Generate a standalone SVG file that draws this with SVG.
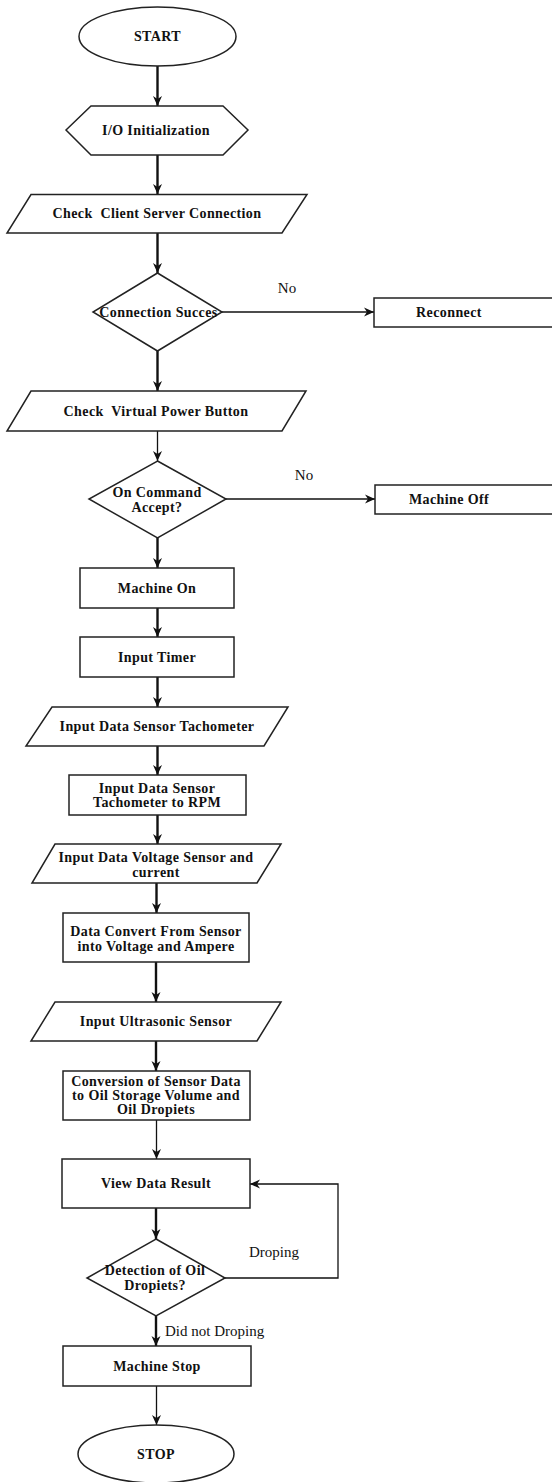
<svg xmlns="http://www.w3.org/2000/svg" width="552" height="1482" viewBox="0 0 552 1482">
<style>
.s{fill:#fff;stroke:#222;stroke-width:1.5}
.t{font-family:"Liberation Serif","Times New Roman",serif;font-weight:bold;font-size:14px;letter-spacing:0.4px;fill:#111;text-anchor:middle}
.l{font-family:"Liberation Serif","Times New Roman",serif;font-size:15px;fill:#111}
.c{fill:none;stroke:#111;stroke-width:1.3}
.k{fill:none;stroke:#111;stroke-width:2.4}
</style>
<defs>
<marker id="ah" markerUnits="userSpaceOnUse" markerWidth="10" markerHeight="10" refX="10" refY="5" orient="auto">
<path d="M0,0.5 L10,5 L0,9.5 L3,5 z" fill="#111"/>
</marker>
</defs>
<rect width="552" height="1482" fill="#fff"/>
<g id="connectors">
<line class="k" x1="157.5" y1="66" x2="157.5" y2="106" marker-end="url(#ah)"/>
<line class="k" x1="157.5" y1="155" x2="157.5" y2="194" marker-end="url(#ah)"/>
<line class="k" x1="157.5" y1="233" x2="157.5" y2="273" marker-end="url(#ah)"/>
<line class="c" x1="222" y1="312" x2="374" y2="312" marker-end="url(#ah)"/>
<line class="k" x1="157.5" y1="351" x2="157.5" y2="391" marker-end="url(#ah)"/>
<line class="c" x1="157.5" y1="431" x2="157.5" y2="461" marker-end="url(#ah)"/>
<line class="c" x1="226" y1="499" x2="375" y2="499" marker-end="url(#ah)"/>
<line class="k" x1="157.5" y1="538" x2="157.5" y2="568" marker-end="url(#ah)"/>
<line class="k" x1="157.5" y1="608" x2="157.5" y2="637" marker-end="url(#ah)"/>
<line class="k" x1="157.5" y1="677" x2="157.5" y2="707" marker-end="url(#ah)"/>
<line class="k" x1="157.5" y1="746" x2="157.5" y2="775" marker-end="url(#ah)"/>
<line class="k" x1="157.5" y1="815" x2="157.5" y2="844" marker-end="url(#ah)"/>
<line class="k" x1="156.5" y1="883" x2="156.5" y2="913" marker-end="url(#ah)"/>
<line class="k" x1="156" y1="962" x2="156" y2="1002" marker-end="url(#ah)"/>
<line class="k" x1="156" y1="1041" x2="156" y2="1071" marker-end="url(#ah)"/>
<line class="c" x1="156.5" y1="1120" x2="156.5" y2="1159" marker-end="url(#ah)"/>
<line class="k" x1="156" y1="1208" x2="156" y2="1239" marker-end="url(#ah)"/>
<polyline class="c" points="225,1278 338,1278 338,1184 250,1184" marker-end="url(#ah)"/>
<line class="k" x1="156" y1="1316" x2="156" y2="1346" marker-end="url(#ah)"/>
<line class="c" x1="156.5" y1="1386" x2="156.5" y2="1425" marker-end="url(#ah)"/>
<text class="l" x="287" y="293" text-anchor="middle">No</text>
<text class="l" x="304" y="480" text-anchor="middle">No</text>
<text class="l" x="274" y="1257" text-anchor="middle">Droping</text>
<text class="l" x="165" y="1336">Did not Droping</text>
</g>
<g id="start">
<ellipse class="s" cx="157.5" cy="36.5" rx="78.5" ry="29.5"/>
<text class="t" x="157.5" y="41">START</text>
</g>
<g id="io-init">
<polygon class="s" points="66,130 91,106 223,106 248,130 223,155 91,155"/>
<text class="t" x="156" y="135">I/O Initialization</text>
</g>
<g id="check-client">
<polygon class="s" points="31,194.5 307,194.5 282,233 7,233"/>
<text class="t" x="157" y="218" xml:space="preserve">Check  Client Server Connection</text>
</g>
<g id="conn-success">
<polygon class="s" points="157.5,273 222,312 157.5,351 93,312"/>
<text class="t" x="158.5" y="317">Connection Succes</text>
</g>
<g id="reconnect">
<rect class="s" x="374" y="298" width="190" height="29"/>
<text class="t" x="449" y="317">Reconnect</text>
</g>
<g id="check-power">
<polygon class="s" points="31,391 306,391 282,431 7,431"/>
<text class="t" x="156" y="416" xml:space="preserve">Check  Virtual Power Button</text>
</g>
<g id="on-command">
<polygon class="s" points="157.5,461 226,499 157.5,538 89,499"/>
<text class="t" x="157" y="497">On Command</text>
<text class="t" x="157" y="512">Accept?</text>
</g>
<g id="machine-off">
<rect class="s" x="375" y="485" width="190" height="29"/>
<text class="t" x="449" y="504">Machine Off</text>
</g>
<g id="machine-on">
<rect class="s" x="80" y="568" width="154" height="40"/>
<text class="t" x="157" y="593">Machine On</text>
</g>
<g id="input-timer">
<rect class="s" x="80" y="637" width="154" height="40"/>
<text class="t" x="157" y="662">Input Timer</text>
</g>
<g id="input-tacho">
<polygon class="s" points="52,707 288,707 264,746 26,746"/>
<text class="t" x="157" y="731">Input Data Sensor Tachometer</text>
</g>
<g id="tacho-rpm">
<rect class="s" x="69" y="775" width="177" height="40"/>
<text class="t" x="157" y="793">Input Data Sensor</text>
<text class="t" x="157" y="807">Tachometer to RPM</text>
</g>
<g id="input-voltage">
<polygon class="s" points="55,844 281,844 257,883 32,883"/>
<text class="t" x="156" y="862">Input Data Voltage Sensor and</text>
<text class="t" x="156" y="877">current</text>
</g>
<g id="convert-va">
<rect class="s" x="63" y="913" width="186" height="49"/>
<text class="t" x="156" y="936">Data Convert From Sensor</text>
<text class="t" x="156" y="951">into Voltage and Ampere</text>
</g>
<g id="input-ultrasonic">
<polygon class="s" points="55,1002 281,1002 257,1041 31,1041"/>
<text class="t" x="156" y="1026">Input Ultrasonic Sensor</text>
</g>
<g id="conversion-oil">
<rect class="s" x="63" y="1071" width="187" height="49"/>
<text class="t" x="156" y="1086">Conversion of Sensor Data</text>
<text class="t" x="156" y="1100">to Oil Storage Volume and</text>
<text class="t" x="156" y="1114">Oil Dropiets</text>
</g>
<g id="view-data">
<rect class="s" x="62" y="1159" width="188" height="49"/>
<text class="t" x="156" y="1188">View Data Result</text>
</g>
<g id="detection">
<polygon class="s" points="156,1239 225,1278 156,1316 87,1278"/>
<text class="t" x="155" y="1275">Detection of Oil</text>
<text class="t" x="155" y="1290">Dropiets?</text>
</g>
<g id="machine-stop">
<rect class="s" x="63" y="1346" width="188" height="40"/>
<text class="t" x="157" y="1371">Machine Stop</text>
</g>
<g id="stop">
<ellipse class="s" cx="156" cy="1454" rx="78" ry="29"/>
<text class="t" x="156" y="1459">STOP</text>
</g>
</svg>
